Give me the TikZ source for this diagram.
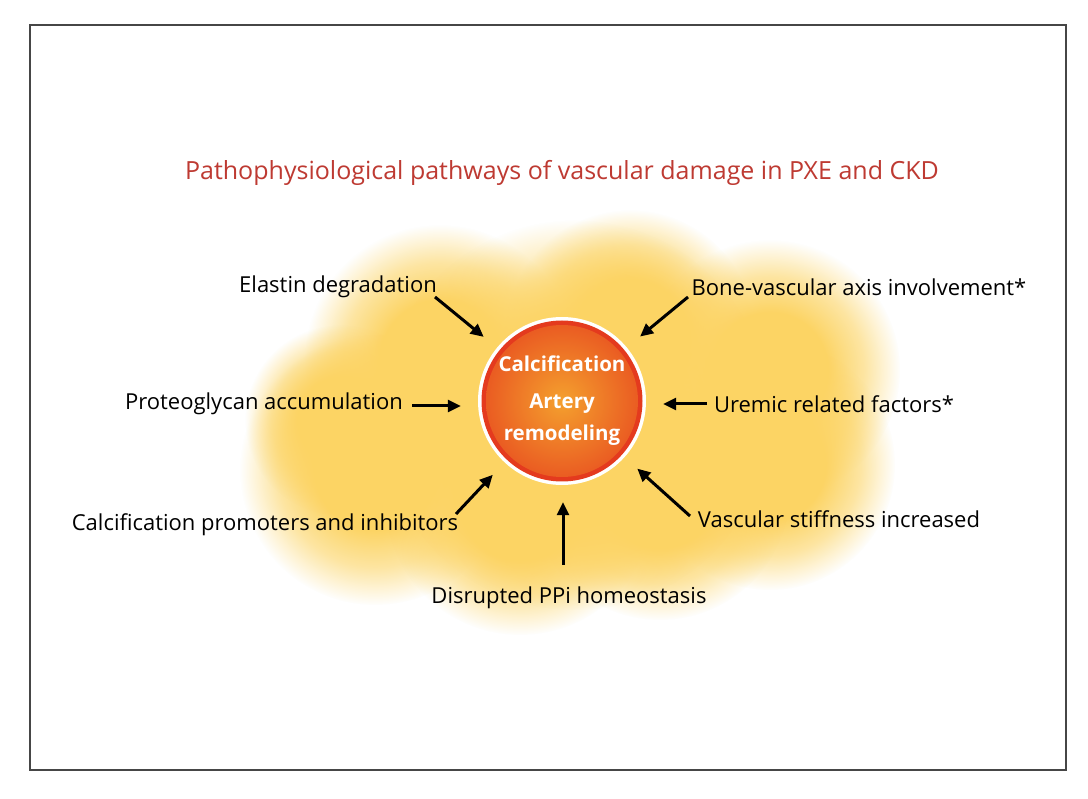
\documentclass[tikz,border=0pt]{standalone}
\usepackage{fontspec}
\setmainfont{Open Sans}
\usetikzlibrary{arrows.meta,fadings}
\definecolor{titlered}{RGB}{190,58,50}
\definecolor{glowyellow}{RGB}{252,212,100}
\definecolor{ringred}{RGB}{228,58,30}
\definecolor{coreorange}{RGB}{244,160,46}
\definecolor{edgeorange}{RGB}{234,92,34}
\definecolor{framegray}{RGB}{70,70,70}
\pgfdeclareradialshading{glowshade}{\pgfpoint{0bp}{0bp}}{rgb(0bp)=(1,1,1); rgb(11bp)=(1,1,1); rgb(18bp)=(0.6,0.6,0.6); rgb(25bp)=(0,0,0); rgb(50bp)=(0,0,0)}
\pgfdeclarefading{glow}{\pgfuseshading{glowshade}}
\tikzset{
  lbl/.style={font=\fontsize{22}{26}\selectfont, text=black, inner sep=0pt},
  arr/.style={line width=3pt, -{Triangle[length=13pt,width=12pt]}, shorten >=17pt},
  blob/.style={fill=glowyellow, path fading=glow},
}
\begin{document}
\begin{tikzpicture}[x=1pt,y=-1pt]
\useasboundingbox (0,0) rectangle (1088,799);
\fill[white] (0,0) rectangle (1088,799);
% glow cloud
\fill[blob] (440,360) circle (135);
\fill[blob] (630,335) circle (125);
\fill[blob] (770,370) circle (130);
\fill[blob] (770,465) circle (125);
\fill[blob] (375,470) circle (135);
\fill[blob] (520,500) circle (135);
\fill[blob] (660,490) circle (130);
\fill[blob] (340,420) circle (95);
\fill[blob] (575,415) circle (195);
% frame
\draw[framegray, line width=1.6pt] (30,25) rectangle (1066,770);
% title
\node[font=\fontsize{25}{29}\selectfont, text=titlered, inner sep=0pt] (title) at (562,173) {Pathophysiological pathways of vascular damage in PXE and CKD};
% center
\node[circle, fill=white, minimum size=168pt, inner sep=0pt] (c) at (562,401) {};
\fill[ringred] (c.center) circle (80.5);
\shade[inner color=coreorange, outer color=edgeorange] (c.center) circle (76);
\node[font=\fontsize{20.5}{32}\selectfont\bfseries, text=white, align=center, inner sep=0pt] (ct) at (562,401) {Calcification\\[5pt]Artery\\remodeling};
% labels
\node[lbl] (el) at (338,287) {Elastin degradation};
\node[lbl] (bo) at (859,287) {Bone-vascular axis involvement*};
\node[lbl] (pr) at (264,404) {Proteoglycan accumulation};
\node[lbl] (ur) at (834,404) {Uremic related factors*};
\node[lbl] (ca) at (265,525) {Calcification promoters and inhibitors};
\node[lbl] (va) at (839,519) {Vascular stiffness increased};
\node[lbl] (pp) at (569,598) {Disrupted PPi homeostasis};
% arrow tails
\coordinate (tel) at (435,297);
\coordinate (tbo) at (688,297);
\coordinate (tpr) at (412,406);
\coordinate (tur) at (707,404);
\coordinate (tca) at (456,514);
\coordinate (tva) at (690,516);
\coordinate (tpp) at (563,565);
\draw[arr] (tel) -- (c);
\draw[arr] (tbo) -- (c);
\draw[arr] (tpr) -- (tpr -| c.west);
\draw[arr] (tur) -- (tur -| c.east);
\draw[arr] (tca) -- (c);
\draw[arr] (tva) -- (c);
\draw[arr] (tpp) -- (tpp |- c.south);
\end{tikzpicture}
\end{document}
